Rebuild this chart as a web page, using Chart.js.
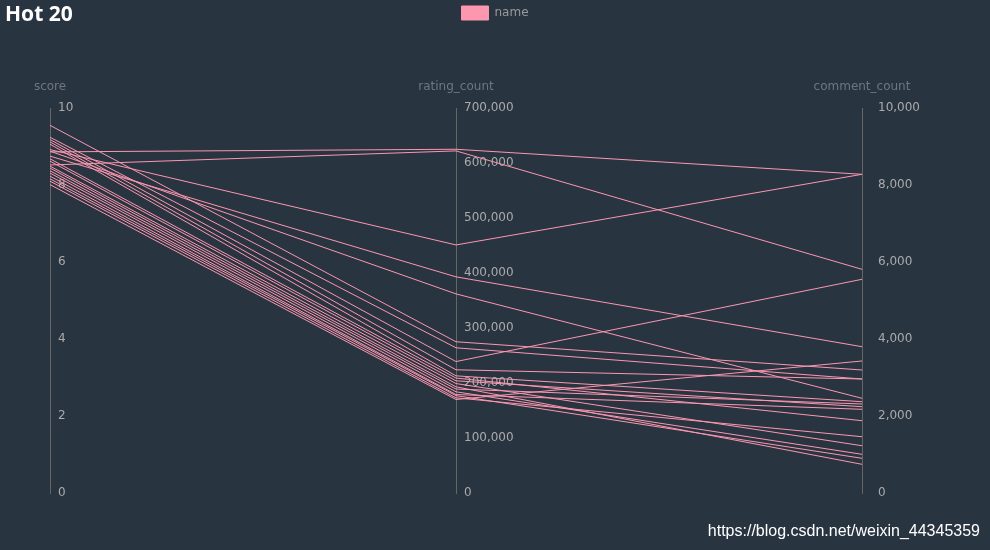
<!DOCTYPE html>
<html>
<head>
<meta charset="utf-8">
<script src="https://cdn.jsdelivr.net/npm/chart.js@4.4.1/dist/chart.umd.min.js"></script>
<style>
html, body { margin: 0; padding: 0; background: #293441; }
</style>
</head>
<body>
<canvas id="c" width="990" height="550"></canvas>
<script>
// parallel axes
var axisNames = ["score", "rating_count", "comment_count"];
var axisMax = [10, 700000, 10000];
var axisStep = [2, 100000, 2000];

// one entry per movie (Hot 20)
var scores = [9.55, 9.24, 9.18, 9.12, 9.06, 8.92, 8.88, 8.86, 8.75, 8.68,
              8.62, 8.52, 8.49, 8.44, 8.37, 8.31, 8.23, 8.16, 8.10, 8.01];
var ratings = [275000, 264000, 239000, 224000, 213000, 451000, 362000, 625000, 393000, 209000,
               204000, 622000, 199000, 193000, 189000, 184000, 179000, 177000, 173000, 170000];
var comments = [3195, 2961, 5551, 2961, 2371, 8278, 2460, 8278, 3800, 1878,
                 2242, 5810, 1228, 745, 2312, 1005, 2174, 901, 1462, 3429];

var pink = "#fc97af";
var fmt = function(v) { return Number(v).toLocaleString("en-US"); };

Chart.defaults.font.family = '"DejaVu Sans", sans-serif';
Chart.defaults.font.size = 12;

// every line lives on a 0..1 axis; the three visible axes share its pixel range
var datasets = scores.map(function(s, i) {
    var vals = [s, ratings[i], comments[i]];
    return {
        label: "name",
        data: vals.map(function(v, k) { return { x: k, y: v / axisMax[k] }; }),
        yAxisID: "n",
        borderColor: pink,
        backgroundColor: pink,
        borderWidth: 1,
        pointRadius: 0,
        tension: 0
    };
});

function yAxis(k, position, extra) {
    var o = {
        axis: "y",
        position: position,
        min: 0,
        max: axisMax[k],
        grid: { display: false },
        border: { display: true, color: "#666666", width: 1 },
        ticks: { stepSize: axisStep[k], color: "#aaaaaa", padding: 8, callback: fmt }
    };
    return Object.assign(o, extra || {});
}

var scoreAxis = yAxis(0, "left", { afterFit: function(s) { s.width = 50; } });
scoreAxis.ticks.mirror = true;
var ratingAxis = yAxis(1, { x: 1 });
ratingAxis.ticks.display = false;
var commentAxis = yAxis(2, "right", { afterFit: function(s) { s.width = 128; } });

var extras = {
    id: "extras",
    beforeDatasetsDraw: function(chart) {
        var ctx = chart.ctx;
        var r = chart.scales.rating;
        var x = chart.scales.x.getPixelForValue(1) + 8;
        ctx.save();
        ctx.font = '12px "DejaVu Sans"';
        ctx.fillStyle = "#aaaaaa";
        ctx.textAlign = "left";
        ctx.textBaseline = "middle";
        r.ticks.forEach(function(t) {
            ctx.fillText(fmt(t.value), x, r.getPixelForValue(t.value));
        });
        ctx.font = 'bold 21px "Noto Sans"';
        ctx.fillStyle = "#ffffff";
        ctx.textBaseline = "alphabetic";
        ctx.fillText("Hot 20", 5, 21);
        ctx.restore();
    },
    afterDraw: function(chart) {
        var ctx = chart.ctx;
        ctx.save();
        ctx.font = '16px "Liberation Sans"';
        ctx.fillStyle = "#ffffff";
        ctx.textAlign = "right";
        ctx.textBaseline = "alphabetic";
        ctx.fillText("https://blog.csdn.net/weixin_44345359", 980, 536);
        ctx.restore();
    }
};

new Chart(document.getElementById("c"), {
    type: "line",
    data: { datasets: datasets },
    options: {
        responsive: false,
        animation: false,
        devicePixelRatio: 1,
        layout: { padding: { left: 0, right: 0, top: 0, bottom: 57 } },
        plugins: {
            tooltip: { enabled: false },
            title: { display: false },
            legend: {
                position: "top",
                labels: {
                    boxWidth: 27,
                    boxHeight: 14,
                    padding: 6,
                    color: "#999999",
                    useBorderRadius: true,
                    borderRadius: 4,
                    generateLabels: function() {
                        return [{ text: "name", fillStyle: pink, strokeStyle: pink, lineWidth: 1,
                                  hidden: false, datasetIndex: 0, fontColor: "#999999" }];
                    }
                }
            }
        },
        scales: {
            x: {
                type: "linear",
                position: "top",
                min: 0,
                max: 2,
                grid: { display: false },
                border: { display: false },
                ticks: {
                    stepSize: 1,
                    padding: 6,
                    color: "#70767c",
                    maxRotation: 0,
                    autoSkip: false,
                    callback: function(v) { return axisNames[v]; }
                },
                afterFit: function(s) { s.height = 78; }
            },
            n: { axis: "y", position: "left", display: false, min: 0, max: 1 },
            score: scoreAxis,
            rating: ratingAxis,
            comment: commentAxis
        }
    },
    plugins: [extras]
});
</script>
</body>
</html>
